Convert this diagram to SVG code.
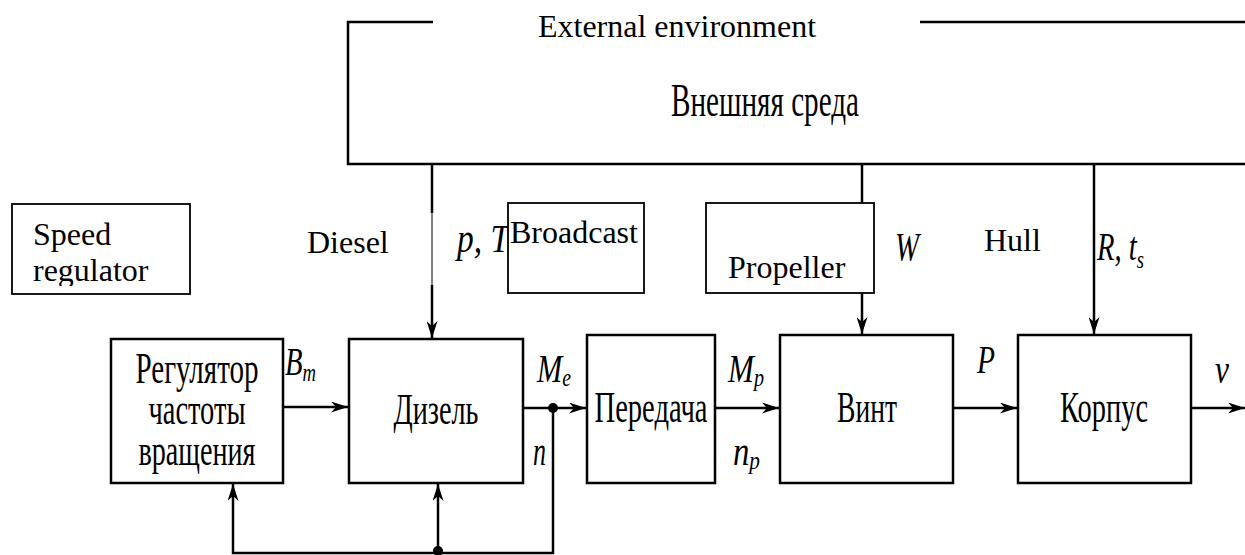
<svg xmlns="http://www.w3.org/2000/svg" width="1245" height="555" viewBox="0 0 1245 555">
<style>
.box{fill:#fff;stroke:#000;stroke-width:2.5}
.ebox{fill:#fff;stroke:#000;stroke-width:1.8}
.ln{fill:none;stroke:#000;stroke-width:2.5}
.en{font-family:"Liberation Serif","DejaVu Serif",serif;font-size:32px;fill:#000}
.ru{font-family:"Liberation Serif","DejaVu Serif",serif;font-size:44px;fill:#000}
.big{font-size:47px}
.it{font-family:"Liberation Serif","DejaVu Serif",serif;font-size:40px;font-style:italic;fill:#000}
.sb{font-size:26px}
</style>
<defs>
<marker id="ar" markerUnits="userSpaceOnUse" markerWidth="18" markerHeight="11" refX="17" refY="5.5" orient="auto">
<path d="M0,0 L17,5.5 L0,11 L5,5.5 z" fill="#000"/>
</marker>
<clipPath id="clipReg"><rect x="0" y="200" width="200" height="86"/></clipPath>
</defs>
<rect width="1245" height="555" fill="#fff"/>

<g id="env">
<path class="ln" d="M433,22 H348 V164 H1245 M920,22 H1245" stroke-width="3"/>
<text class="en" x="677" y="37" text-anchor="middle">External environment</text>
<text class="ru big" x="765" y="116" text-anchor="middle" textLength="188" lengthAdjust="spacingAndGlyphs">Внешняя среда</text>
</g>

<g id="connectors">
<path class="ln" d="M432,165 V213"/>
<path d="M432,213 V285" fill="none" stroke="#000" stroke-width="1"/>
<path class="ln" d="M432,285 V338" marker-end="url(#ar)"/>
<path class="ln" d="M862,165 V203"/>
<path class="ln" d="M862,293 V334" marker-end="url(#ar)"/>
<path class="ln" d="M1094,165 V334" marker-end="url(#ar)"/>
<path class="ln" d="M284,407 H348" marker-end="url(#ar)"/>
<path class="ln" d="M524,408 H586" marker-end="url(#ar)"/>
<path class="ln" d="M716,408 H779" marker-end="url(#ar)"/>
<path class="ln" d="M954,408 H1017" marker-end="url(#ar)"/>
<path class="ln" d="M1192,408 H1245" marker-end="url(#ar)"/>
<path class="ln" d="M553,408 V553 H233 V484" marker-end="url(#ar)"/>
<path class="ln" d="M438,553 V484" marker-end="url(#ar)"/>
<circle cx="553" cy="408" r="5"/>
<circle cx="438" cy="551" r="5"/>
</g>

<g id="labels">
<text class="it" x="457" y="252" textLength="52" lengthAdjust="spacingAndGlyphs">p, T</text>
<text class="it" x="285" y="375" textLength="31" lengthAdjust="spacingAndGlyphs">B<tspan class="sb" dy="6">m</tspan></text>
<text class="it" x="537" y="382" textLength="34" lengthAdjust="spacingAndGlyphs">M<tspan class="sb" dy="4">e</tspan></text>
<text class="it" x="533" y="465" textLength="13" lengthAdjust="spacingAndGlyphs">n</text>
<text class="it" x="728" y="382" textLength="36" lengthAdjust="spacingAndGlyphs">M<tspan class="sb" dy="4">p</tspan></text>
<text class="it" x="733" y="465" textLength="27" lengthAdjust="spacingAndGlyphs">n<tspan class="sb" dy="4">p</tspan></text>
<text class="it" x="895" y="260" textLength="24" lengthAdjust="spacingAndGlyphs">W</text>
<text class="it" x="1097" y="260" textLength="47" lengthAdjust="spacingAndGlyphs">R, t<tspan class="sb" dy="8">s</tspan></text>
<text class="it" x="977" y="373" textLength="18" lengthAdjust="spacingAndGlyphs">P</text>
<text class="it" x="1215" y="383" textLength="14" lengthAdjust="spacingAndGlyphs">v</text>
<text class="en" x="307" y="253">Diesel</text>
<text class="en" x="984" y="251">Hull</text>
</g>

<g id="speed-regulator-note">
<rect class="ebox" x="12" y="204" width="178" height="90"/>
<g clip-path="url(#clipReg)">
<text class="en" x="33" y="245">Speed</text>
<text class="en" x="33" y="281">regulator</text>
</g>
</g>

<g id="broadcast-note">
<rect class="ebox" x="508" y="203" width="136" height="90"/>
<text class="en" x="510" y="243">Broadcast</text>
</g>

<g id="propeller-note">
<rect class="ebox" x="706" y="203" width="168" height="90"/>
<text class="en" x="728" y="278">Propeller</text>
</g>

<g id="regulator">
<rect class="box" x="111" y="339" width="172" height="144"/>
<text class="ru" x="197" y="383" text-anchor="middle" textLength="123" lengthAdjust="spacingAndGlyphs">Регулятор</text>
<text class="ru" x="197" y="424" text-anchor="middle" textLength="97" lengthAdjust="spacingAndGlyphs">частоты</text>
<text class="ru" x="197" y="465" text-anchor="middle" textLength="117" lengthAdjust="spacingAndGlyphs">вращения</text>
</g>

<g id="diesel">
<rect class="box" x="349" y="339" width="174" height="144"/>
<text class="ru" x="436" y="424" text-anchor="middle" textLength="85" lengthAdjust="spacingAndGlyphs">Дизель</text>
</g>

<g id="transmission">
<rect class="box" x="587" y="335" width="128" height="148"/>
<text class="ru" x="651" y="422" text-anchor="middle" textLength="113" lengthAdjust="spacingAndGlyphs">Передача</text>
</g>

<g id="propeller">
<rect class="box" x="780" y="335" width="173" height="148"/>
<text class="ru" x="867" y="422" text-anchor="middle" textLength="60" lengthAdjust="spacingAndGlyphs">Винт</text>
</g>

<g id="hull">
<rect class="box" x="1018" y="335" width="173" height="148"/>
<text class="ru" x="1104" y="422" text-anchor="middle" textLength="88" lengthAdjust="spacingAndGlyphs">Корпус</text>
</g>
</svg>
